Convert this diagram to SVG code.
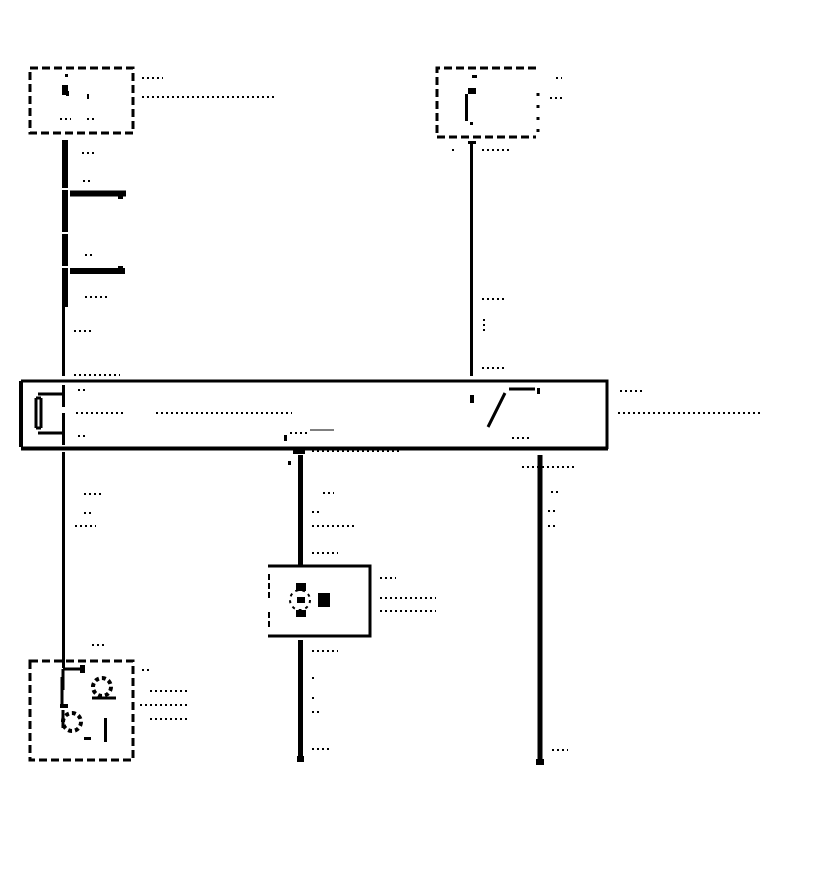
<svg xmlns="http://www.w3.org/2000/svg" width="816" height="872" viewBox="0 0 816 872">
<style>
.box{fill:none;stroke:#000;stroke-width:3}
.dash{stroke-dasharray:8 4}
.w{stroke:#000;fill:none}
.w6{stroke-width:6}.w5{stroke-width:5}.w3{stroke-width:3}
.f{fill:#000}
.sp{stroke:#000;stroke-width:2;fill:none;stroke-dasharray:2 3}
</style>
<rect width="816" height="872" fill="#fff"/>
<g id="connectors">
<path class="w w6" d="M65 140V188M65 190V232M65 234V266M65 268V307"/>
<path class="w w6" d="M70 193.500H126M70 271H125"/>
<rect class="f" x="118" y="196" width="5" height="3"/>
<rect class="f" x="118" y="266" width="5" height="3"/>
<path class="w w3" d="M63.500 307V376M471.500 142V376M63.500 452V660M63.500 642V668"/>
<rect class="f" x="468" y="141" width="8" height="3"/>
<path class="w w5" d="M300.500 455V565M300.500 640V758M540 455V762"/>
<rect class="f" x="297" y="756" width="7" height="6"/>
<rect class="f" x="536" y="759" width="8" height="6"/>
<rect class="f" x="293" y="447" width="12" height="7"/>
</g>
<g id="node-top-left">
<rect class="box dash" x="30" y="68" width="103" height="65"/>
<rect class="f" x="62" y="85" width="6" height="10"/>
<rect class="f" x="66" y="91" width="3" height="5"/>
<rect class="f" x="65" y="74" width="3" height="3"/>
<rect class="f" x="87" y="94" width="2" height="5"/>
<path class="sp" d="M60 119H71M87 119H94"/>
<path class="sp" d="M142 78H163M142 97H277"/>
<path class="sp" d="M82 153H94M83 181H92M85 255H92M85 297H107M74 331H92"/>
</g>
<g id="node-top-right">
<path class="box dash" d="M536 68H437V137H536"/>
<path class="w w3" d="M538 93V135" stroke-dasharray="3 9"/>
<path class="w w3" d="M466.500 94V121"/>
<rect class="f" x="468" y="88" width="8" height="6"/>
<rect class="f" x="472" y="75" width="5" height="3"/>
<rect class="f" x="470" y="122" width="3" height="3"/>
<path class="sp" d="M556 78H562M550 98H562M452 150H456M482 150H512"/>
<path class="sp" d="M482 299H505M484 319V332M482 368H507"/>
</g>
<g id="node-main">
<path class="w" stroke-width="3" d="M21 381H607V449"/>
<path class="w" stroke-width="4" d="M21 381V447M21 448.500H608"/>
<path class="w w3" d="M63.500 385V407M63.500 413V445"/>
<path class="w w3" d="M38 394H63M38 433H63M36 398V428M41 398V428M36 398H41M36 428H41"/>
<path class="w w3" d="M488 427L505 393M509 389H535"/>
<rect class="f" x="537" y="388" width="3" height="6"/>
<rect class="f" x="470" y="395" width="4" height="8"/>
<path class="sp" d="M78 390H87M76 413H125M156 413H292M78 436H87"/>
<path class="sp" d="M512 438H530M620 391H644M618 413H760"/>
<path class="sp" d="M74 375H120"/>
<path class="w" stroke-width="1" d="M310 430H334"/>
<rect class="f" x="284" y="435" width="3" height="6"/>
<path class="sp" d="M290 433H308M312 451H400"/>
<path class="sp" d="M84 494H102M84 513H92M75 526H96"/>
<path class="sp" d="M323 493H334M312 512H322M312 526H354M312 553H338"/>
<path class="sp" d="M522 467H574M551 492H558M548 511H556M548 526H557"/>
<rect class="f" x="288" y="461" width="3" height="4"/>
</g>
<g id="node-mid">
<path class="w w3" d="M268 566H370V636H268"/>
<path class="w" stroke-width="2" d="M269 574V600M269 612V628" stroke-dasharray="6 3"/>
<rect class="f" x="296" y="583" width="10" height="8"/>
<rect class="f" x="296" y="610" width="10" height="7"/>
<rect class="f" x="297" y="597" width="8" height="6"/>
<circle cx="300" cy="600" r="10" class="w" stroke-width="2" stroke-dasharray="3 4"/>
<rect class="f" x="318" y="593" width="12" height="14"/>
<path class="sp" d="M380 578H396M380 598H436M380 611H436M312 651H338"/>
<path class="sp" d="M312 678H316M312 698H316M312 712H322M312 749H332"/>
<path class="sp" d="M552 750H568"/>
</g>
<g id="node-bottom-left">
<rect class="box dash" x="30" y="661" width="103" height="99"/>
<path class="w w3" d="M63 669V690M63 669H85M62 677V705M63 710V728"/>
<rect class="f" x="80" y="665" width="5" height="8"/>
<rect class="f" x="60" y="704" width="8" height="4"/>
<circle cx="102" cy="687" r="9" class="w" stroke-width="4" stroke-dasharray="4 3"/>
<path class="w w3" d="M92 698H116"/>
<circle cx="72" cy="722" r="9" class="w" stroke-width="4" stroke-dasharray="4 3"/>
<path class="w w3" d="M105.500 718V742"/>
<rect class="f" x="84" y="737" width="7" height="3"/>
<path class="sp" d="M142 670H150M150 691H188M140 705H188M150 719H188M92 645H104"/>
</g>
</svg>
